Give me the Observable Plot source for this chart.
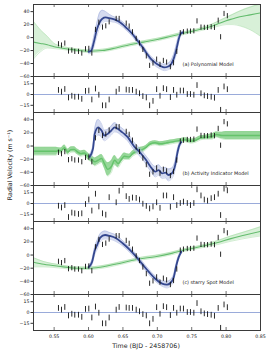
<!DOCTYPE html>
<html><head><meta charset="utf-8">
<script src="https://cdn.jsdelivr.net/npm/d3@7"></script>
<script src="https://cdn.jsdelivr.net/npm/@observablehq/plot@0.6"></script>
<style>
body{margin:0;background:#fff;}
#fig{position:relative;width:269px;height:357px;font-family:"DejaVu Sans",sans-serif;overflow:hidden;}
#fig svg{position:absolute;left:0;overflow:visible;}
.lab{position:absolute;font-size:6.3px;color:#222;white-space:nowrap;font-family:"DejaVu Sans",sans-serif;}
</style></head><body><div id="fig"></div>
<script>
// ---- observations (time, RV, error) ----
const obsT = [0.5563,0.5607,0.5655,0.5709,0.5757,0.5800,0.5854,0.5902,0.5956,0.6004,0.6048,0.6101,0.6150,0.6203,0.6251,0.6300,0.6402,0.6445,0.6548,0.6591,0.6639,0.6693,0.6741,0.6790,0.6840,0.6888,0.6937,0.6990,0.7039,0.7088,0.7135,0.7190,0.7236,0.7283,0.7334,0.7380,0.7436,0.7482,0.7531,0.7577,0.7635,0.7683,0.7730,0.7783,0.7831,0.7885,0.7920,0.7970,0.8018];
const obsRV = [-10.3,-12.3,-9.2,-21.5,-20,-22,-22,-24.6,-18,-17.4,-24.6,11.8,23,15.4,17.4,23.6,28.7,28.7,21.5,17,8.2,-2,-9,-19,-29,-43.6,-40,-34,-42,-36,-38.5,-45.6,-39.5,-22,6.7,8.2,9.2,9.2,9.7,25,15.4,15,15,16,15,26,0.5,36.4,33];
const obsErr = [4,4,4,4,4,4,4,4,4,4,4,4,4,4,4,4,4,4,4,4,4,4,4,4,4,4,4,4,4,4,4,4,4,4,4,4,4,4,4,4,4,4,4,4,4,4,4,4,4];
// residuals: polynomial & starry (identical), activity model
const resAC = [5.7,3.3,7,-4.8,-2.4,-3.8,-3.8,-6.7,4.3,4.8,-7.6,7.6,-1,-15.7,-15.7,-7.6,3.3,7,6.2,5.7,5.7,3.3,1,-2.9,-4.8,-15.7,-9.5,6.7,-2.4,8.1,6.7,-4.3,5.7,-1,4.8,4.8,0,0,-1,12.4,1,-1.9,-2.9,-3.8,-5.2,5.7,-22,10.5,6.7];
const resB = [-3.8,-6.2,-2.9,-19.5,-13.3,-14.3,-15.2,-14.3,-1.4,4.8,-10.5,12.9,-4.8,-14.3,-16.2,8.1,1,17.1,9.5,5.7,7.6,7.1,4.8,-1,-4,-7.5,-4.8,1,-6.7,10.5,10.5,-5.2,8.1,-2.9,0,1.9,0,-2.9,0,19,10.5,4.8,3.3,6.7,8.1,12.9,-16.7,20,17.6];

// ---- (a) polynomial model (green envelope) ----
const polyT  = [0.52,0.53,0.54,0.55,0.56,0.58,0.60,0.62,0.64,0.66,0.68,0.70,0.72,0.74,0.76,0.78,0.79,0.80,0.81,0.82,0.835,0.85];
const polyMid= [-7,-9,-11,-14,-16,-19,-21,-20,-16,-11,-7,-3,2,7,12,18,22,26,29,32,35,38];
const polyLo = [-33,-22,-16,-17,-18,-21,-23,-22,-18,-13,-9,-5,0,5,10,15,18,20,20,18,12,2];
const polyHi = [25,12,2,-9,-13,-17,-19,-18,-14,-9,-5,-1,4,9,14,21,26,31,36,41,47,52];
// (a) GP (blue)
const aBlueT  = [0.600,0.604,0.608,0.612,0.616,0.620,0.625,0.630,0.635,0.640,0.645,0.650,0.655,0.660,0.665,0.670,0.675,0.680,0.685,0.690,0.695,0.700,0.705,0.710,0.715,0.720,0.724,0.728,0.731,0.734,0.737];
const aBlueMid= [-22,-20,-6,12,23,29,31,30,29,27,24,20,15,10,4,-3,-10,-17,-25,-32,-37,-41,-44,-46,-45,-41,-32,-17,-3,6,8];
const aBlueLo = [-25,-24,-14,2,15,22,25,25,24,23,20,16,11,6,0,-7,-14,-21,-29,-36,-42,-46,-49,-51,-50,-46,-38,-24,-8,3,6];
const aBlueHi = [-19,-15,3,22,38,42,40,36,33,31,28,24,19,14,8,1,-6,-13,-21,-28,-33,-37,-40,-41,-40,-35,-25,-9,3,9,10];

// ---- (b) activity indicator model ----
const actT   = [0.52,0.553,0.556,0.560,0.565,0.570,0.574,0.579,0.584,0.589,0.594,0.599,0.604,0.609,0.614,0.619,0.623,0.628,0.633,0.638,0.643,0.647,0.652,0.659,0.664,0.668,0.673,0.678,0.683,0.690,0.697,0.704,0.712,0.719,0.727,0.734,0.741,0.748,0.755,0.763,0.770,0.779,0.786,0.794,0.800,0.85];
const actMid = [-8,-8,-6.5,-7,-2.5,-9,-5.5,-5,-9,-11.5,-10.5,-15.5,-19,-24,-21.5,-19,-26.5,-35.5,-31.5,-21.5,-26.5,-21.5,-15.5,-16.5,-11.5,-9,-6.5,-5.5,-2.5,3.5,5,3.5,4.5,6,7.5,8.5,9.5,7.5,8.5,12.5,13.5,14.5,17.5,16,16,16];
const actHalf= [6,6,4,4,4,4,4,4,4,4,4,5,5,6,6,6,7,10,9,7,6,5,5,4,4,4,4,4,3,3,3,3,3,3,3,3,3,3,3,3,3,4,4,5,6,6];
const bBlueT  = [0.6016,0.6065,0.609,0.614,0.619,0.623,0.628,0.633,0.638,0.643,0.647,0.652,0.657,0.662,0.667,0.672,0.677,0.682,0.687,0.692,0.697,0.702,0.707,0.712,0.716,0.721,0.726,0.729,0.732,0.735];
const bBlueMid= [-16.5,-4,18.5,28.5,23.5,16,18.5,23.5,28.5,26,22.5,18.5,13.5,6,-1.5,-6.5,-12.5,-19,-26.5,-34,-39,-36.5,-41.5,-40.5,-44,-41.5,-29,-11.5,1,6];
const bBlueHalf=[4,6,8,12,10,8,7,7,7,6,6,6,6,6,6,6,6,6,7,7,8,8,8,8,9,8,7,6,4,3];

// ---- (c) starry spot model ----
const spotT   = [0.52,0.535,0.556,0.583,0.60,0.617,0.648,0.673,0.697,0.721,0.741,0.769,0.788,0.807,0.826,0.85];
const spotMid = [-11,-14,-17,-20,-20,-18.5,-12,-6,-2.5,2.5,8,14,19,25,30,36];
const spotHalf= [7,4,2.5,2,2,2,2,2,2,2,2,2,3,4,5,7];
const cBlueT  = [0.600,0.605,0.609,0.613,0.617,0.624,0.631,0.640,0.650,0.659,0.668,0.678,0.688,0.697,0.707,0.714,0.719,0.724,0.727,0.731,0.735];
const cBlueMid= [-18.5,-11,6.5,16.5,26.5,30.5,29,25.5,17.5,9,-1,-13.5,-26,-36,-43.5,-45,-42.5,-33.5,-18.5,-3.5,5];
const cBlueHalf=[3,4,6,7,6,6,5,5,4,4,4,4,4,4,4,5,5,5,4,3,2];

const panelLabels = ["(a) Polynomial Model","(b) Activity Indicator Model","(c) starry Spot Model"];
const xTicks = [0.55,0.60,0.65,0.70,0.75,0.80,0.85];
const mainTicks = [40,20,0,-20,-40,-60];
const resTicks = [15,0,-15];

// ---- tables ----
const obs = obsT.map((t,i)=>({t, rv: obsRV[i], err: obsErr[i], ra: resAC[i], rb: resB[i]}));
const tbl = (T, mid, lo, hi) => T.map((t,i)=>({t, mid: mid[i], lo: lo[i], hi: hi[i]}));
const tblH = (T, mid, half) => T.map((t,i)=>({t, mid: mid[i], lo: mid[i]-half[i], hi: mid[i]+half[i]}));
const polyA = tbl(polyT, polyMid, polyLo, polyHi);
const blueA = tbl(aBlueT, aBlueMid, aBlueLo, aBlueHi);
const actB = tblH(actT, actMid, actHalf);
const blueB = tblH(bBlueT, bBlueMid, bBlueHalf);
const spotC = tblH(spotT, spotMid, spotHalf);
const blueC = tblH(cBlueT, cBlueMid, cBlueHalf);

const fig = document.getElementById("fig");
const W = 269, ML = 33, MR = 9;
const FS = 4.7;

function greenMarks(d, strong) {
  return [
    Plot.areaY(d, {x:"t", y1:"lo", y2:"hi", fill: strong ? "#74c978" : "#a9dea9", fillOpacity: strong ? 0.75 : 0.45, curve:"monotone-x", clip:true}),
    Plot.lineY(d, {x:"t", y:"lo", stroke:"#8fd38f", strokeWidth:0.5, strokeOpacity:0.8, curve:"monotone-x", clip:true}),
    Plot.lineY(d, {x:"t", y:"hi", stroke:"#8fd38f", strokeWidth:0.5, strokeOpacity:0.8, curve:"monotone-x", clip:true}),
    Plot.lineY(d, {x:"t", y:"mid", stroke: strong ? "#5cbf63" : "#4fb35a", strokeWidth: strong ? 1.4 : 1.1, strokeOpacity:0.85, curve:"monotone-x", clip:true})
  ];
}
function blueMarks(d) {
  return [
    Plot.areaY(d, {x:"t", y1:"lo", y2:"hi", fill:"#b3bde3", fillOpacity:0.55, curve:"monotone-x", clip:true}),
    Plot.lineY(d, {x:"t", y:"lo", stroke:"#a3afdc", strokeWidth:0.5, curve:"monotone-x", clip:true}),
    Plot.lineY(d, {x:"t", y:"hi", stroke:"#a3afdc", strokeWidth:0.5, curve:"monotone-x", clip:true}),
    Plot.lineY(d, {x:"t", y:"mid", stroke:"#34478f", strokeWidth:1.8, curve:"monotone-x", clip:true})
  ];
}

function panel({top, h, yDomain, yTicks, marks, label, bottomAxis=false}) {
  const mb = bottomAxis ? 28 : 0;
  const svg = Plot.plot({
    width: W, height: h + mb, marginLeft: ML, marginRight: MR, marginTop: 0, marginBottom: mb,
    x: {domain: [0.52, 0.85], axis: null}, y: {domain: yDomain, axis: null},
    style: {fontFamily: "DejaVu Sans", fontSize: FS + "px", color: "#222", background: "transparent", overflow: "visible"},
    marks: [
      ...marks,
      Plot.axisY(yTicks, {tickSize: 2.5, tickPadding: 1.5, label: null, fontSize: FS, stroke: "#333"}),
      Plot.ruleX(xTicks, {insetBottom: h - 3, stroke: "#333", strokeWidth: 0.7}),
      Plot.ruleX(xTicks, {insetTop: h - 3, stroke: "#333", strokeWidth: 0.7}),
      bottomAxis ? Plot.axisX(xTicks, {tickSize: 0, tickPadding: 4, tickFormat: d3.format(".2f"), label: null, fontSize: FS}) : null,
      label ? Plot.text([label], {text: d => d, frameAnchor: "bottom-left", textAnchor: "start", dx: 149, dy: -11, fontSize: 4.9, fill: "#222"}) : null,
      Plot.frame({stroke: "#3a3a3a", strokeWidth: 1})
    ]
  });
  svg.style.top = top + "px";
  fig.appendChild(svg);
}

const mainDom = [-60, 51], resDom = [-25, 25];
const errMain = Plot.ruleX(obs, {x:"t", y1: d=>d.rv-d.err, y2: d=>d.rv+d.err, stroke:"#111", strokeWidth:0.9, clip:true});
const errRes = key => [
  Plot.ruleY([0], {stroke:"#8ea1d6", strokeWidth:0.9}),
  Plot.ruleX(obs, {x:"t", y1: d=>d[key]-d.err, y2: d=>d[key]+d.err, stroke:"#111", strokeWidth:0.9, clip:true})
];

panel({top: 4, h: 72, yDomain: mainDom, yTicks: mainTicks, label: panelLabels[0],
  marks: [...greenMarks(polyA, false), ...blueMarks(blueA), errMain]});
panel({top: 76, h: 36, yDomain: resDom, yTicks: resTicks, marks: errRes("ra")});
panel({top: 112, h: 73, yDomain: mainDom, yTicks: mainTicks, label: panelLabels[1],
  marks: [...greenMarks(actB, true), ...blueMarks(blueB), errMain]});
panel({top: 185, h: 36, yDomain: resDom, yTicks: resTicks, marks: errRes("rb")});
panel({top: 221, h: 73, yDomain: mainDom, yTicks: mainTicks, label: panelLabels[2],
  marks: [...greenMarks(spotC, false), ...blueMarks(blueC), errMain]});
panel({top: 294, h: 36, yDomain: resDom, yTicks: resTicks, marks: errRes("ra"), bottomAxis: true});

// axis titles
const yl = document.createElement("div");
yl.className = "lab";
yl.textContent = "Radial Velocity (m s\u207B\u00B9)";
yl.style.left = "9px"; yl.style.top = "165px";
yl.style.transform = "translate(-50%,-50%) rotate(-90deg)";
fig.appendChild(yl);
const xl = document.createElement("div");
xl.className = "lab";
xl.textContent = "Time (BJD - 2458706)";
xl.style.left = "146px"; xl.style.top = "345px";
xl.style.transform = "translate(-50%,-50%)";
fig.appendChild(xl);
</script></body></html>
